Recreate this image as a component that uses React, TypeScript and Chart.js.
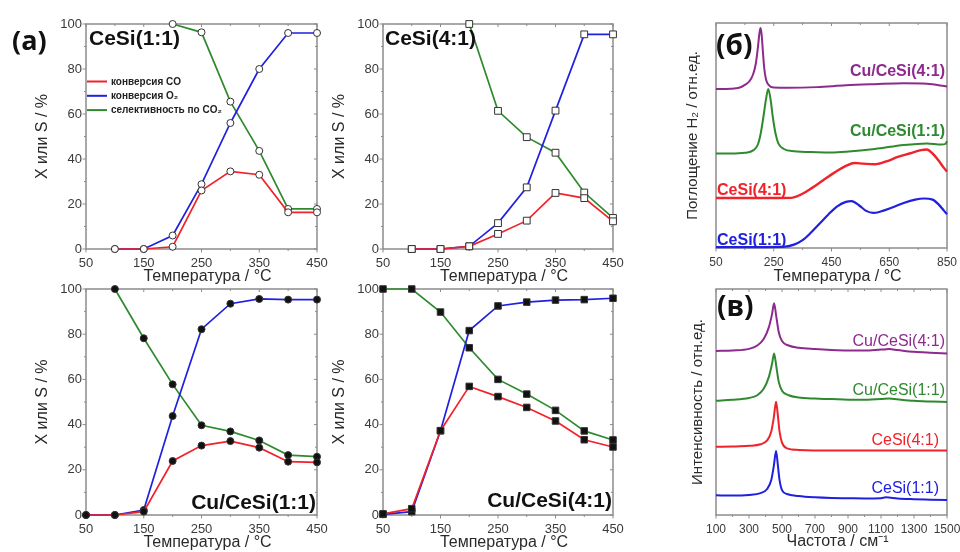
import React, { useEffect, useRef } from "react";
import { Chart, registerables } from "chart.js";
Chart.register(...registerables);

// ---------- DATA ----------
// Panel (а) CeSi(1:1)
const tA = [100, 150, 200, 250, 300, 350, 400, 450];
const coA = [0, 0, 1, 26, 34.5, 33, 16.3, 16.3];
const o2A = [0, 0, 6, 28.8, 56, 80, 96, 96];
const tSelA = [200, 250, 300, 350, 400, 450];
const selA = [100, 96.3, 65.5, 43.6, 17.8, 17.8];

// CeSi(4:1)
const tB = [100, 150, 200, 250, 300, 350, 400, 450];
const coB = [0, 0, 1.2, 6.7, 12.6, 24.9, 22.6, 12.3];
const o2B = [0, 0, 1.2, 11.5, 27.4, 61.5, 95.4, 95.4];
const tSelB = [200, 250, 300, 350, 400, 450];
const selB = [100, 61.4, 49.7, 42.8, 25.1, 13.8];

// Cu/CeSi(1:1)
const tC = [50, 100, 150, 200, 250, 300, 350, 400, 450];
const coC = [0, 0, 1.5, 23.9, 30.7, 32.7, 29.8, 23.6, 23.3];
const o2C = [0, 0, 2.2, 43.8, 82.2, 93.5, 95.6, 95.3, 95.3];
const tSelC = [100, 150, 200, 250, 300, 350, 400, 450];
const selC = [100, 78.2, 57.8, 39.7, 37, 33, 26.5, 25.8];

// Cu/CeSi(4:1)
const tD = [50, 100, 150, 200, 250, 300, 350, 400, 450];
const coD = [0.5, 2.8, 37.3, 56.9, 52.4, 47.6, 41.6, 33.3, 30.1];
const o2D = [0.3, 1.5, 37.3, 81.6, 92.5, 94.2, 95.1, 95.3, 95.9];
const selD = [100, 100, 89.8, 74, 60, 53.5, 46.3, 37.2, 33.2];

// (б) TPR-H2
const tprX_Cu41 = [50, 100, 130, 150, 165, 178, 188, 195, 200, 204, 208, 212, 217, 223, 232, 250, 300, 400, 500, 600, 700, 780, 850];
const tprY_Cu41 = [70.7, 70.8, 71.2, 72.5, 74, 77, 82, 89, 95, 97.8, 95, 88, 80, 75, 72.5, 71.3, 71.2, 71.5, 72.3, 72.8, 73.2, 73, 71.8];
const tprX_Cu11 = [50, 100, 150, 180, 195, 205, 215, 223, 231, 239, 247, 256, 266, 285, 320, 400, 450, 500, 600, 700, 780, 830, 845, 850];
const tprY_Cu11 = [42, 42, 42.3, 43.5, 46, 51, 59, 66, 70.7, 66, 58, 51, 46.5, 44, 43, 42.6, 42.5, 42.8, 44, 45.8, 46.5, 46, 46.3, 47.5];
const tprX_41 = [50, 200, 310, 340, 380, 420, 460, 500, 530, 560, 600, 640, 680, 720, 760, 780, 800, 820, 840, 850];
const tprY_41 = [22.2, 22.2, 22.3, 23.5, 26.5, 30, 33.5, 36.5, 37.8, 37.5, 37.2, 38.5, 40.5, 42, 43.5, 43.8, 42, 39, 35.5, 34];
const tprX_11 = [50, 200, 290, 320, 350, 380, 410, 440, 470, 500, 520, 545, 570, 595, 620, 660, 700, 740, 770, 800, 820, 840, 850];
const tprY_11 = [0.4, 0.4, 0.6, 1.5, 3.5, 7, 11, 15, 18.5, 20.5, 20.8, 19, 16.5, 15.6, 16.2, 18, 20, 21.5, 22, 21.5, 19.5, 16.5, 15];

// (в) Raman
const ramX_Cu41 = [100, 200, 300, 350, 390, 420, 440, 452, 465, 480, 500, 540, 600, 700, 800, 900, 1000, 1100, 1150, 1200, 1300, 1400, 1500];
const ramY_Cu41 = [72.6, 72.8, 73.5, 75, 78, 83, 89, 93.7, 88, 81, 77, 75, 74, 73.4, 73, 72.8, 72.8, 73.2, 73.4, 73, 72.2, 71.8, 71.5];
const ramX_Cu11 = [100, 200, 300, 350, 390, 420, 440, 452, 465, 480, 500, 540, 600, 700, 800, 900, 1000, 1100, 1150, 1200, 1300, 1400, 1500];
const ramY_Cu11 = [50.6, 51, 51.8, 53, 56, 61, 67, 71.5, 66, 59, 55, 53, 52, 51.5, 51.3, 51, 51, 51.3, 51.6, 51.2, 50.5, 50.2, 50];
const ramX_41 = [100, 200, 300, 370, 410, 435, 450, 464, 475, 485, 500, 530, 600, 800, 1000, 1200, 1500];
const ramY_41 = [30.2, 30.3, 30.6, 31.3, 33, 37, 43, 50.1, 44, 37, 32, 29.5, 28.8, 28.5, 28.5, 28.5, 28.5];
const ramX_11 = [100, 200, 300, 370, 410, 435, 450, 464, 475, 485, 500, 530, 600, 700, 800, 900, 1000, 1100, 1130, 1200, 1300, 1400, 1500];
const ramY_11 = [8.7, 8.6, 8.9, 9.7, 11.5, 15.5, 21.5, 28.3, 22, 15.5, 11, 9.3, 8.4, 7.8, 7.5, 7.4, 7.3, 7.4, 7.8, 7.3, 7, 6.8, 6.6];

const tempTicks = [50, 150, 250, 350, 450];
const tempMinor = [100, 200, 300, 400];
const pctTicks = [0, 20, 40, 60, 80, 100];
const pctMinor = [10, 30, 50, 70, 90];
const tprTicks = [50, 250, 450, 650, 850];
const tprMinor = [150, 350, 550, 750];
const ramTicks = [100, 300, 500, 700, 900, 1100, 1300, 1500];
const ramMinor = [200, 400, 600, 800, 1000, 1200, 1400];

const legendLabels = ["конверсия CO", "конверсия O₂", "селективность по CO₂"];

// ---------- STYLE ----------
const FONT = '"Liberation Sans", Arial, sans-serif';
const RED = "#f0222a";
const BLUE = "#2020e0";
const GREEN = "#2f8a2f";
const PURPLE = "#8e2a8e";
const L = 80, T = 20, R = 28;

type Series = { xs: number[]; ys: number[]; color: string; radius?: number; style?: string; fill?: string; width?: number; smooth?: boolean };
type Txt = { text: string; x: number; y: number; font: string; color: string; align: CanvasTextAlign };
type Cfg = {
  x: number; y: number; w: number; h: number; B: number;
  xMin: number; xMax: number; xTicks: number[]; xMinor: number[];
  yTicks: number[]; yMinor: number[]; showY: boolean; tickSize: number;
  series: Series[];
  xTitle: string; xTitleY: number; yTitle: string; yTitleX: number; yTitleSize: number;
  texts: Txt[];
  legend?: { label: string; color: string }[];
};

function catSeries(xs1: number[], co: number[], o2: number[], xs2: number[], sel: number[], style: string, fill: string, radius: number): Series[] {
  const base = { radius, style, fill, width: 1.7 };
  return [
    { xs: xs1, ys: co, color: RED, ...base },
    { xs: xs1, ys: o2, color: BLUE, ...base },
    { xs: xs2, ys: sel, color: GREEN, ...base },
  ];
}

const bold = (s: number) => `bold ${s}px ${FONT}`;
const regular = (s: number) => `${s}px ${FONT}`;
const OS = '"Open Sans", "Noto Sans", sans-serif';

const panels: Cfg[] = [
  {
    x: 86, y: 24, w: 231, h: 225, B: 40,
    xMin: 50, xMax: 450, xTicks: tempTicks, xMinor: tempMinor, yTicks: pctTicks, yMinor: pctMinor, showY: true, tickSize: 13,
    series: catSeries(tA, coA, o2A, tSelA, selA, "circle", "#ffffff", 3.5),
    xTitle: "Температура / °C", xTitleY: 277, yTitle: "X или S / %", yTitleX: 43, yTitleSize: 16,
    texts: [
      { text: "(а)", x: 12, y: 42, font: `bold 27px ${OS}`, color: "#111", align: "left" },
      { text: "CeSi(1:1)", x: 89, y: 39, font: bold(21), color: "#111", align: "left" },
    ],
    legend: [
      { label: legendLabels[0], color: RED },
      { label: legendLabels[1], color: BLUE },
      { label: legendLabels[2], color: GREEN },
    ],
  },
  {
    x: 383, y: 24, w: 230, h: 225, B: 40,
    xMin: 50, xMax: 450, xTicks: tempTicks, xMinor: tempMinor, yTicks: pctTicks, yMinor: pctMinor, showY: true, tickSize: 13,
    series: catSeries(tB, coB, o2B, tSelB, selB, "rect", "#ffffff", 4.8),
    xTitle: "Температура / °C", xTitleY: 277, yTitle: "X или S / %", yTitleX: 340, yTitleSize: 16,
    texts: [{ text: "CeSi(4:1)", x: 385, y: 39, font: bold(21), color: "#111", align: "left" }],
  },
  {
    x: 86, y: 289, w: 231, h: 226, B: 36,
    xMin: 50, xMax: 450, xTicks: tempTicks, xMinor: tempMinor, yTicks: pctTicks, yMinor: pctMinor, showY: true, tickSize: 13,
    series: catSeries(tC, coC, o2C, tSelC, selC, "circle", "#111111", 3.5),
    xTitle: "Температура / °C", xTitleY: 543, yTitle: "X или S / %", yTitleX: 43, yTitleSize: 16,
    texts: [{ text: "Cu/CeSi(1:1)", x: 316, y: 503, font: bold(21), color: "#111", align: "right" }],
  },
  {
    x: 383, y: 289, w: 230, h: 226, B: 36,
    xMin: 50, xMax: 450, xTicks: tempTicks, xMinor: tempMinor, yTicks: pctTicks, yMinor: pctMinor, showY: true, tickSize: 13,
    series: catSeries(tD, coD, o2D, tD, selD, "rect", "#111111", 4.6),
    xTitle: "Температура / °C", xTitleY: 543, yTitle: "X или S / %", yTitleX: 340, yTitleSize: 16,
    texts: [{ text: "Cu/CeSi(4:1)", x: 612, y: 501, font: bold(21), color: "#111", align: "right" }],
  },
  {
    x: 716, y: 23, w: 231, h: 225, B: 40,
    xMin: 50, xMax: 850, xTicks: tprTicks, xMinor: tprMinor, yTicks: [], yMinor: [], showY: false, tickSize: 12,
    series: [
      { xs: tprX_Cu41, ys: tprY_Cu41, color: PURPLE, width: 2, smooth: true },
      { xs: tprX_Cu11, ys: tprY_Cu11, color: GREEN, width: 2, smooth: true },
      { xs: tprX_41, ys: tprY_41, color: RED, width: 2.4, smooth: true },
      { xs: tprX_11, ys: tprY_11, color: BLUE, width: 2.2, smooth: true },
    ],
    xTitle: "Температура / °C", xTitleY: 277, yTitle: "Поглощение H₂ / отн.ед.", yTitleX: 693, yTitleSize: 15,
    texts: [
      { text: "(б)", x: 716, y: 47, font: `bold 28px ${OS}`, color: "#111", align: "left" },
      { text: "Cu/CeSi(4:1)", x: 945, y: 72, font: bold(16), color: PURPLE, align: "right" },
      { text: "Cu/CeSi(1:1)", x: 945, y: 132, font: bold(16), color: GREEN, align: "right" },
      { text: "CeSi(4:1)", x: 717, y: 191, font: bold(16), color: RED, align: "left" },
      { text: "CeSi(1:1)", x: 717, y: 241, font: bold(16), color: BLUE, align: "left" },
    ],
  },
  {
    x: 716, y: 289, w: 231, h: 226, B: 36,
    xMin: 100, xMax: 1500, xTicks: ramTicks, xMinor: ramMinor, yTicks: [], yMinor: [], showY: false, tickSize: 12,
    series: [
      { xs: ramX_Cu41, ys: ramY_Cu41, color: PURPLE, width: 2, smooth: true },
      { xs: ramX_Cu11, ys: ramY_Cu11, color: GREEN, width: 2, smooth: true },
      { xs: ramX_41, ys: ramY_41, color: RED, width: 2, smooth: true },
      { xs: ramX_11, ys: ramY_11, color: BLUE, width: 2, smooth: true },
    ],
    xTitle: "Частота / см⁻¹", xTitleY: 542, yTitle: "Интенсивность / отн.ед.", yTitleX: 698, yTitleSize: 15,
    texts: [
      { text: "(в)", x: 717, y: 308, font: `bold 28px ${OS}`, color: "#111", align: "left" },
      { text: "Cu/CeSi(4:1)", x: 945, y: 342, font: regular(16), color: PURPLE, align: "right" },
      { text: "Cu/CeSi(1:1)", x: 945, y: 391, font: regular(16), color: GREEN, align: "right" },
      { text: "CeSi(4:1)", x: 939, y: 441, font: regular(16), color: RED, align: "right" },
      { text: "CeSi(1:1)", x: 939, y: 489, font: regular(16), color: BLUE, align: "right" },
    ],
  },
];

function buildConfig(cfg: Cfg): any {
  const offX = cfg.x - L, offY = cfg.y - T;
  const decor = {
    id: "decor",
    beforeDatasetsDraw(chart: any) {
      const ctx = chart.ctx;
      const { left, top, right, bottom } = chart.chartArea;
      const xs = chart.scales.x, ys = chart.scales.y;
      ctx.save();
      ctx.strokeStyle = "#8c8c8c";
      ctx.lineWidth = 1.5;
      ctx.strokeRect(left, top, right - left, bottom - top);
      ctx.lineWidth = 1;
      ctx.beginPath();
      for (const v of cfg.xTicks) { const p = xs.getPixelForValue(v); ctx.moveTo(p, bottom); ctx.lineTo(p, bottom + 3.5); ctx.moveTo(p, top); ctx.lineTo(p, top + 3); }
      for (const v of cfg.xMinor) { const p = xs.getPixelForValue(v); ctx.moveTo(p, bottom); ctx.lineTo(p, bottom + 2); ctx.moveTo(p, top); ctx.lineTo(p, top + 2); }
      for (const v of cfg.yTicks) { const p = ys.getPixelForValue(v); ctx.moveTo(left, p); ctx.lineTo(left - 3.5, p); ctx.moveTo(right, p); ctx.lineTo(right - 3, p); }
      for (const v of cfg.yMinor) { const p = ys.getPixelForValue(v); ctx.moveTo(left, p); ctx.lineTo(left - 2, p); ctx.moveTo(right, p); ctx.lineTo(right - 2, p); }
      ctx.stroke();
      ctx.restore();
    },
    afterDraw(chart: any) {
      const ctx = chart.ctx;
      const { left, top, right, bottom } = chart.chartArea;
      ctx.save();
      ctx.textBaseline = "middle";
      // axis titles
      ctx.fillStyle = "#2a2a2a";
      ctx.font = regular(16);
      ctx.textAlign = "center";
      ctx.fillText(cfg.xTitle, (left + right) / 2 + 6, cfg.xTitleY - offY);
      ctx.save();
      ctx.translate(cfg.yTitleX - offX, (top + bottom) / 2);
      ctx.rotate(-Math.PI / 2);
      ctx.font = regular(cfg.yTitleSize);
      ctx.fillText(cfg.yTitle, 0, 0);
      ctx.restore();
      // texts
      for (const t of cfg.texts) {
        ctx.font = t.font;
        ctx.fillStyle = t.color;
        ctx.textAlign = t.align;
        ctx.fillText(t.text, t.x - offX, t.y - offY);
      }
      // legend
      if (cfg.legend) {
        cfg.legend.forEach((it, i) => {
          const y = 81.5 + i * 14.3 - offY;
          ctx.strokeStyle = it.color;
          ctx.lineWidth = 2;
          ctx.beginPath();
          ctx.moveTo(87 - offX, y);
          ctx.lineTo(107 - offX, y);
          ctx.stroke();
          ctx.fillStyle = "#222";
          ctx.font = bold(10);
          ctx.textAlign = "left";
          ctx.fillText(it.label, 111 - offX, y + 0.5);
        });
      }
      ctx.restore();
    },
  };

  return {
    type: "line",
    data: {
      datasets: cfg.series.map((s) => ({
        data: s.xs.map((x, i) => ({ x, y: s.ys[i] })),
        borderColor: s.color,
        borderWidth: s.width ?? 1.7,
        pointRadius: s.radius ?? 0,
        pointStyle: s.style ?? "circle",
        pointBackgroundColor: s.fill ?? s.color,
        pointBorderColor: "#333",
        pointBorderWidth: 1,
        tension: 0,
        cubicInterpolationMode: s.smooth ? "monotone" : "default",
        fill: false,
        clip: false,
      })),
    },
    options: {
      responsive: false,
      animation: false,
      devicePixelRatio: 1,
      events: [],
      layout: { padding: { top: T, right: R, left: 0, bottom: 0 } },
      plugins: { legend: { display: false }, tooltip: { enabled: false } },
      scales: {
        x: {
          type: "linear",
          min: cfg.xMin,
          max: cfg.xMax,
          grid: { display: false, drawTicks: false },
          border: { display: false },
          ticks: {
            font: { family: FONT, size: cfg.tickSize }, color: "#3a3a3a", padding: 7, maxRotation: 0, autoSkip: false,
            callback: (v: any) => String(v),
          },
          afterBuildTicks: (s: any) => { s.ticks = cfg.xTicks.map((v) => ({ value: v })); },
          afterFit: (s: any) => { s.height = cfg.B; },
        },
        y: {
          type: "linear",
          min: 0,
          max: 100,
          grid: { display: false, drawTicks: false },
          border: { display: false },
          ticks: {
            display: cfg.showY, font: { family: FONT, size: cfg.tickSize }, color: "#3a3a3a", padding: 4,
            callback: (v: any) => String(v),
          },
          afterBuildTicks: (s: any) => { s.ticks = cfg.yTicks.map((v) => ({ value: v })); },
          afterFit: (s: any) => { s.width = L; },
        },
      },
    },
    plugins: [decor],
  };
}

function Panel({ cfg }: { cfg: Cfg }) {
  const ref = useRef<HTMLCanvasElement>(null);
  const w = cfg.w + L + R;
  const h = cfg.h + T + cfg.B;
  useEffect(() => {
    const chart = new Chart(ref.current as HTMLCanvasElement, buildConfig(cfg));
    return () => chart.destroy();
  }, []);
  return (
    <canvas
      ref={ref}
      width={w}
      height={h}
      style={{ position: "absolute", left: cfg.x - L, top: cfg.y - T, width: w, height: h }}
    />
  );
}

export default function App() {
  return (
    <div style={{ position: "absolute", left: 0, top: 0, width: 960, height: 552, overflow: "hidden", background: "#fff" }}>
      {panels.map((p, i) => (
        <Panel key={i} cfg={p} />
      ))}
    </div>
  );
}
